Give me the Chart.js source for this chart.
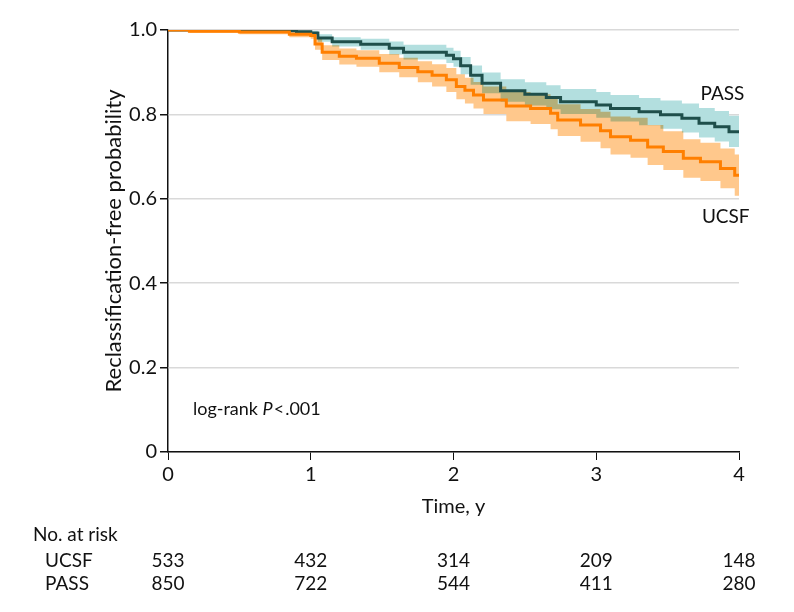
<!DOCTYPE html>
<html>
<head>
<meta charset="utf-8">
<script src="https://cdn.jsdelivr.net/npm/chart.js@4.4.0/dist/chart.umd.min.js"></script>
<style>
html, body { margin: 0; padding: 0; background: #fff; }
#wrap { width: 794px; height: 612px; }
</style>
</head>
<body>
<div id="wrap"><canvas id="kmChart" width="794" height="612"></canvas></div>
<script>
// PASS cohort
var timePass  = [0, 0.3, 0.6, 0.9, 1.0, 1.05, 1.15, 1.35, 1.55, 1.65, 1.95, 2.0, 2.05, 2.12, 2.2, 2.33, 2.5, 2.65, 2.75, 3.0, 3.1, 3.3, 3.45, 3.6, 3.72, 3.83, 3.93, 4.0];
var survPass  = [1.0, 0.999, 0.998, 0.996, 0.993, 0.981, 0.972, 0.966, 0.957, 0.947, 0.94, 0.932, 0.915, 0.893, 0.874, 0.856, 0.848, 0.84, 0.83, 0.822, 0.814, 0.806, 0.799, 0.791, 0.779, 0.771, 0.759, 0.758];
var upperPass = [1.0, 1.0, 1.0, 0.999, 0.998, 0.99, 0.983, 0.979, 0.973, 0.965, 0.958, 0.951, 0.936, 0.916, 0.899, 0.883, 0.876, 0.869, 0.86, 0.853, 0.846, 0.839, 0.833, 0.826, 0.815, 0.808, 0.797, 0.796];
var lowerPass = [1.0, 0.998, 0.995, 0.992, 0.988, 0.972, 0.961, 0.953, 0.942, 0.93, 0.922, 0.913, 0.895, 0.87, 0.85, 0.83, 0.821, 0.812, 0.801, 0.792, 0.783, 0.774, 0.766, 0.757, 0.745, 0.736, 0.723, 0.722];

// UCSF cohort
var timeUcsf  = [0, 0.15, 0.5, 0.85, 1.0, 1.03, 1.08, 1.2, 1.32, 1.48, 1.62, 1.75, 1.85, 1.95, 2.02, 2.08, 2.14, 2.21, 2.37, 2.54, 2.68, 2.73, 2.89, 3.03, 3.1, 3.24, 3.36, 3.47, 3.61, 3.73, 3.87, 3.97, 4.0];
var survUcsf  = [1.0, 0.997, 0.995, 0.99, 0.987, 0.967, 0.947, 0.938, 0.933, 0.921, 0.911, 0.901, 0.893, 0.882, 0.866, 0.857, 0.846, 0.834, 0.82, 0.814, 0.803, 0.787, 0.775, 0.761, 0.747, 0.739, 0.723, 0.712, 0.696, 0.688, 0.672, 0.656, 0.655];
var upperUcsf = [1.0, 1.0, 0.999, 0.996, 0.994, 0.98, 0.964, 0.956, 0.952, 0.943, 0.934, 0.926, 0.919, 0.91, 0.895, 0.887, 0.877, 0.866, 0.853, 0.848, 0.838, 0.824, 0.813, 0.806, 0.795, 0.792, 0.775, 0.76, 0.741, 0.733, 0.719, 0.705, 0.704];
var lowerUcsf = [1.0, 0.993, 0.99, 0.983, 0.979, 0.953, 0.929, 0.918, 0.913, 0.9, 0.888, 0.876, 0.866, 0.853, 0.836, 0.826, 0.814, 0.801, 0.784, 0.777, 0.765, 0.749, 0.735, 0.72, 0.705, 0.697, 0.68, 0.668, 0.65, 0.642, 0.625, 0.607, 0.606];

// numbers at risk
var riskYears = [0, 1, 2, 3, 4];
var riskUcsf = [533, 432, 314, 209, 148];
var riskPass = [850, 722, 544, 411, 280];

var FONT = "Lato, 'Liberation Sans', sans-serif";

function pts(t, v) {
    return t.map(function (x, i) { return {x: x, y: v[i]}; });
}

function band(label, t, v, color, fillTo, order) {
    return {
        label: label,
        data: pts(t, v),
        borderColor: 'rgba(0,0,0,0)',
        borderWidth: 0,
        backgroundColor: color,
        fill: fillTo,
        stepped: true,
        pointRadius: 0,
        order: order
    };
}

// bands: teal drawn plain, orange multiplied over it; grid + axis lines slipped behind everything
var layers = {
    id: 'layers',
    afterDatasetDraw: function (chart, args) {
        var lab = chart.data.datasets[args.index].label;
        chart.ctx.globalCompositeOperation = (lab === 'PASS lower') ? 'multiply' : 'source-over';
    },
    afterDatasetsDraw: function (chart) {
        chart.ctx.globalCompositeOperation = 'destination-over';
    },
    afterDraw: function (chart) {
        var ctx = chart.ctx;
        var xs = chart.scales.x, ys = chart.scales.y;
        ctx.globalCompositeOperation = 'source-over';
        ctx.save();
        ctx.fillStyle = '#111';
        ctx.textBaseline = 'middle';
        ctx.font = '19px ' + FONT;

        ctx.textAlign = 'left';
        ctx.fillText('PASS', xs.getPixelForValue(3.73), ys.getPixelForValue(0.848));
        ctx.fillText('UCSF', xs.getPixelForValue(3.74), ys.getPixelForValue(0.557));

        // log-rank P < .001
        ctx.font = '18px ' + FONT;
        var lx = xs.getPixelForValue(0.175), ly = ys.getPixelForValue(0.102);
        var a = 'log-rank ';
        ctx.fillText(a, lx, ly);
        lx += ctx.measureText(a).width;
        ctx.font = 'italic 18px ' + FONT;
        ctx.fillText('P', lx, ly);
        lx += ctx.measureText('P').width + 1;
        ctx.font = '18px ' + FONT;
        ctx.fillText('<', lx, ly);
        lx += ctx.measureText('<').width + 1;
        ctx.fillText('.001', lx, ly);

        // number at risk table
        ctx.font = '19px ' + FONT;
        var y0 = chart.chartArea.bottom;
        ctx.fillText('No. at risk', 33, y0 + 83);
        ctx.fillText('UCSF', 45, y0 + 109);
        ctx.fillText('PASS', 45, y0 + 132);
        ctx.textAlign = 'center';
        riskYears.forEach(function (yr, i) {
            var px = xs.getPixelForValue(yr);
            ctx.fillText(String(riskUcsf[i]), px, y0 + 109);
            ctx.fillText(String(riskPass[i]), px, y0 + 132);
        });
        ctx.restore();
    }
};

var ctxK = document.getElementById('kmChart').getContext('2d');
var kmChart = new Chart(ctxK, {
    type: 'line',
    data: {
        datasets: [
            {
                label: 'UCSF',
                data: pts(timeUcsf, survUcsf),
                borderColor: '#ff7f00',
                borderWidth: 3,
                stepped: true,
                pointRadius: 0,
                fill: false,
                order: 0
            },
            {
                label: 'PASS',
                data: pts(timePass, survPass),
                borderColor: '#1f4f4b',
                borderWidth: 3,
                stepped: true,
                pointRadius: 0,
                fill: false,
                order: 1
            },
            band('PASS upper', timePass, upperPass, '#b3dfdf', 3, 6),
            band('PASS lower', timePass, lowerPass, 'rgba(0,0,0,0)', false, 5),
            band('UCSF upper', timeUcsf, upperUcsf, '#ffc88c', 5, 4),
            band('UCSF lower', timeUcsf, lowerUcsf, 'rgba(0,0,0,0)', false, 3)
        ]
    },
    options: {
        responsive: false,
        animation: false,
        layout: {
            padding: {left: 98, right: 55, top: 30, bottom: 90}
        },
        plugins: {
            legend: {display: false},
            tooltip: {enabled: false}
        },
        scales: {
            x: {
                type: 'linear',
                min: 0,
                max: 4,
                afterFit: function (s) { s.height = 70; },
                ticks: {
                    stepSize: 1,
                    color: '#111',
                    padding: 3,
                    font: {family: FONT, size: 20},
                    callback: function (v) { return String(v); }
                },
                grid: {
                    drawOnChartArea: false,
                    tickColor: '#111',
                    tickLength: 8,
                    z: 1
                },
                border: {color: '#111', width: 1.5, z: 1},
                title: {
                    display: true,
                    text: 'Time, y',
                    color: '#111',
                    padding: {top: 0, bottom: 3},
                    font: {family: FONT, size: 20}
                }
            },
            y: {
                min: 0,
                max: 1,
                afterFit: function (s) { s.width = 70; },
                ticks: {
                    stepSize: 0.2,
                    color: '#111',
                    padding: 3,
                    font: {family: FONT, size: 20},
                    callback: function (v) { return v === 0 ? '0' : v.toFixed(1); }
                },
                grid: {
                    color: '#d9d9d9',
                    lineWidth: 1.5,
                    tickColor: '#111',
                    tickLength: 8,
                    z: 1
                },
                border: {color: '#111', width: 1.5, z: 1},
                title: {
                    display: true,
                    text: 'Reclassification-free probability',
                    color: '#111',
                    padding: {top: 3, bottom: 0},
                    font: {family: FONT, size: 22}
                }
            }
        }
    },
    plugins: [layers]
});
</script>
</body>
</html>
